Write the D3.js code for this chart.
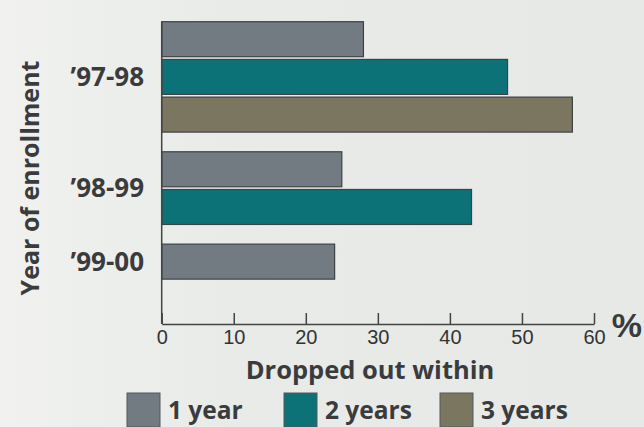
<!DOCTYPE html>
<html>
<head>
<meta charset="utf-8">
<script src="https://cdn.jsdelivr.net/npm/d3@7"></script>
<style>
  body { margin: 0; background: #e9ece9; }
  #chart svg { display: block; }
  .bold-label { font-family: "Open Sans", "Noto Sans", sans-serif; font-weight: 700; fill: #3b3b3d; }
  .x-axis text { font-family: "Liberation Sans", Arial, sans-serif; font-size: 20px; fill: #333; }
  .x-axis path, .x-axis line { stroke: #444; stroke-width: 1.5; }
</style>
</head>
<body>
<div id="chart"></div>
<script>
// chart values
const enrollmentYears = ["\u201997-98", "\u201998-99", "\u201999-00"];
const seriesNames = ["1 year", "2 years", "3 years"];
const droppedOneYear = [28, 25, 24];
const droppedTwoYears = [48, 43, null];
const droppedThreeYears = [57, null, null];
const xTickValues = [0, 10, 20, 30, 40, 50, 60];
const seriesColors = ["#727a82", "#0d7277", "#7b7660"];

class DropoutChart {
    constructor(parentElement) {
        this.parentElement = parentElement;
        this.initVis();
    }

    initVis() {
        const vis = this;

        vis.width = 644;
        vis.height = 427;

        vis.svg = d3.select("#" + vis.parentElement).append("svg")
            .attr("width", vis.width)
            .attr("height", vis.height);

        // soft paper background, lighter on the left
        const grad = vis.svg.append("defs").append("linearGradient")
            .attr("id", "bg-grad")
            .attr("x1", "0").attr("y1", "0").attr("x2", "1").attr("y2", "0");
        grad.append("stop").attr("offset", "0").attr("stop-color", "#f1f2f0");
        grad.append("stop").attr("offset", "0.35").attr("stop-color", "#e8ebe8");
        grad.append("stop").attr("offset", "1").attr("stop-color", "#e6e9e6");
        vis.svg.append("rect")
            .attr("width", vis.width).attr("height", vis.height)
            .attr("fill", "url(#bg-grad)");

        // x scale: percent dropped out
        vis.x = d3.scaleLinear()
            .domain([0, 60])
            .range([161.7, 594]);

        // y scale works in "slot" units: one slot per bar plus a gap between groups
        vis.barStep = 37.7;
        vis.barHeight = 35;
        vis.groupGap = 0.45;
        vis.y = d3.scaleLinear()
            .domain([0, 1])
            .range([21.7, 21.7 + vis.barStep]);

        vis.wrangleData();
    }

    wrangleData() {
        const vis = this;
        const allSeries = [droppedOneYear, droppedTwoYears, droppedThreeYears];

        vis.bars = [];
        vis.groups = [];
        let slot = 0;
        enrollmentYears.forEach((year, g) => {
            const first = slot;
            allSeries.forEach((values, s) => {
                if (values[g] == null) return;
                vis.bars.push({year: year, series: s, value: values[g], slot: slot + g * vis.groupGap});
                slot++;
            });
            vis.groups.push({year: year, start: first + g * vis.groupGap, end: slot + g * vis.groupGap});
        });

        vis.updateVis();
    }

    updateVis() {
        const vis = this;

        // bars
        vis.svg.selectAll(".bar")
            .data(vis.bars)
            .enter().append("rect")
            .attr("class", "bar")
            .attr("x", vis.x(0))
            .attr("y", d => vis.y(d.slot))
            .attr("width", d => vis.x(d.value) - vis.x(0))
            .attr("height", vis.barHeight)
            .attr("fill", d => seriesColors[d.series])
            .attr("stroke", "#3e4244")
            .attr("stroke-width", 1.2);

        // x axis with upward ticks
        const xAxis = d3.axisBottom(vis.x)
            .tickValues(xTickValues)
            .tickSizeInner(-11)
            .tickSizeOuter(0)
            .tickPadding(0);

        const axisY = 324;
        const gx = vis.svg.append("g")
            .attr("class", "x-axis")
            .attr("transform", `translate(0,${axisY})`)
            .call(xAxis);
        gx.selectAll(".tick text").attr("y", 6);

        // y axis line
        vis.svg.append("line")
            .attr("x1", vis.x(0)).attr("x2", vis.x(0))
            .attr("y1", vis.y(0)).attr("y2", axisY)
            .attr("stroke", "#444").attr("stroke-width", 1.5);

        // group labels
        vis.svg.selectAll(".year-label")
            .data(vis.groups)
            .enter().append("text")
            .attr("class", "bold-label year-label")
            .attr("x", 144)
            .attr("y", d => (vis.y(d.start) + vis.y(d.end) - (vis.barStep - vis.barHeight)) / 2)
            .attr("dy", "0.36em")
            .attr("text-anchor", "end")
            .attr("font-size", 26)
            .text(d => d.year);

        // y axis title
        vis.svg.append("text")
            .attr("class", "bold-label")
            .attr("transform", "translate(39,178) rotate(-90)")
            .attr("text-anchor", "middle")
            .attr("font-size", 25)
            .text("Year of enrollment");

        // percent sign
        vis.svg.append("text")
            .attr("x", 642)
            .attr("y", 337)
            .attr("text-anchor", "end")
            .attr("font-family", "Liberation Sans, Arial, sans-serif")
            .attr("font-weight", 700)
            .attr("font-size", 34)
            .attr("fill", "#3b3b3d")
            .text("%");

        // x title
        vis.svg.append("text")
            .attr("class", "bold-label")
            .attr("x", 370)
            .attr("y", 379)
            .attr("text-anchor", "middle")
            .attr("font-size", 25.5)
            .text("Dropped out within");

        // legend
        const legendX = [127, 284, 440];
        const legend = vis.svg.selectAll(".legend-item")
            .data(seriesNames)
            .enter().append("g")
            .attr("class", "legend-item")
            .attr("transform", (d, i) => `translate(${legendX[i]},393)`);

        legend.append("rect")
            .attr("width", 33)
            .attr("height", 34)
            .attr("fill", (d, i) => seriesColors[i])
            .attr("stroke", "#55595a")
            .attr("stroke-width", 1);

        legend.append("text")
            .attr("class", "bold-label")
            .attr("x", 41)
            .attr("y", 26)
            .attr("font-size", 24.5)
            .text(d => d);
    }
}

new DropoutChart("chart");
</script>
</body>
</html>
